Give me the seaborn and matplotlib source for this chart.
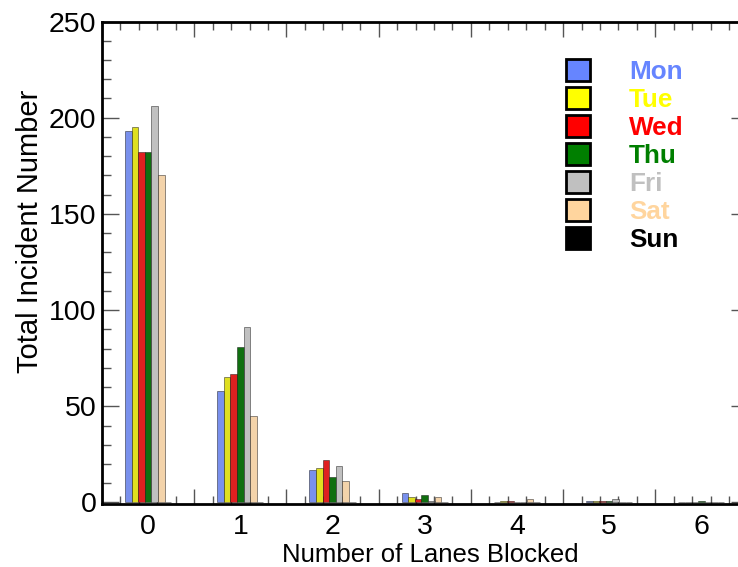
import numpy as np
import pandas as pd
import matplotlib
matplotlib.use("Agg")
import matplotlib.pyplot as plt
from matplotlib.patches import Patch
import seaborn as sns

# Incident counts by number of lanes blocked, one list per weekday
lanes = [0, 1, 2, 3, 4, 5, 6]
days = ["Mon", "Tue", "Wed", "Thu", "Fri", "Sat", "Sun"]
mon = [193, 58, 17, 5, 0, 1, 0]
tue = [195, 65, 18, 3, 1, 1, 0]
wed = [182, 67, 22, 2, 1, 1, 0]
thu = [182, 81, 13, 4, 0, 1, 1]
fri = [206, 91, 19, 1, 0, 2, 0]
sat = [170, 45, 11, 3, 2, 0, 0]
sun = [0, 0, 0, 0, 0, 0, 0]
day_colors = ["#6685FF", "#FFFF00", "#FF0000", "#007F00", "#C0C0C0", "#FFD59E", "#000000"]

y_ticks = [0, 50, 100, 150, 200, 250]

series = [mon, tue, wed, thu, fri, sat, sun]
df = pd.DataFrame(
    [(lane, day, vals[i]) for day, vals in zip(days, series) for i, lane in enumerate(lanes)],
    columns=["lanes", "day", "count"],
)

sns.set_style("ticks")
plt.rcParams["font.family"] = ["Liberation Sans", "DejaVu Sans"]
plt.rcParams["text.color"] = "black"
plt.rcParams["axes.labelcolor"] = "black"

fig = plt.figure(figsize=(7.38, 5.67), dpi=100)
ax = fig.add_axes([102 / 738, 63.1 / 567, 645.5 / 738, 482.4 / 567])

sns.barplot(
    data=df, x="lanes", y="count", hue="day", hue_order=days,
    order=lanes, palette=day_colors, width=0.5, errorbar=None,
    edgecolor=(0, 0, 0, 0.6), linewidth=0.5, legend=False, ax=ax,
)

# the baseline sits just above the thick bottom frame so short bars stay visible
ax.set_xlim(-0.5, 6.5)
ax.set_ylim(-0.73, 250)

# x axis: long ticks between groups, labels at group centres, short ticks inside
major_x = np.arange(-0.5, 6.51, 0.5)
ax.set_xticks(major_x)
ax.set_xticklabels([str(int(v)) if float(v).is_integer() else "" for v in major_x])
minor_x = [n + d for n in range(-1, 7) for d in (0.1, 0.3, 0.7, 0.9) if -0.5 < n + d < 6.5]
ax.set_xticks(minor_x, minor=True)

ax.set_yticks(y_ticks)
ax.set_yticks(np.arange(0, 251, 10), minor=True)

ax.tick_params(axis="both", which="both", direction="in", top=True, right=True,
               color="#555555", width=1.0, labelsize=20.5, labelcolor="black")
ax.tick_params(axis="y", which="major", length=12, pad=4)
ax.tick_params(axis="y", which="minor", length=6.5)
ax.tick_params(axis="x", which="major", length=11, pad=7)
ax.tick_params(axis="x", which="minor", length=6)

for v, tick in zip(major_x, ax.xaxis.get_major_ticks()):
    if float(v).is_integer():
        tick.tick1line.set_visible(False)
        tick.tick2line.set_visible(False)

for side in ["left", "right", "top", "bottom"]:
    ax.spines[side].set_linewidth(2.0)
    ax.spines[side].set_color("black")

ax.set_xlabel("Number of Lanes Blocked", fontsize=18.5, color="black")
ax.set_ylabel("Total Incident Number", fontsize=21, color="black")
ax.xaxis.set_label_coords(0.509, -0.0815)
ax.yaxis.set_label_coords(-0.090, 0.566)

handles = [Patch(facecolor=c, edgecolor="black", linewidth=2) for c in day_colors]
leg = ax.legend(
    handles, days, loc="upper left", bbox_to_anchor=(0.719, 0.922),
    frameon=False, handlelength=0.9, handleheight=0.9, handletextpad=1.51,
    labelspacing=0.12, borderpad=0, borderaxespad=0,
    prop={"family": "Liberation Sans", "weight": "bold", "size": 18.8},
)
for text, c in zip(leg.get_texts(), day_colors):
    text.set_color(c)

fig.savefig("out.png", dpi=100)
